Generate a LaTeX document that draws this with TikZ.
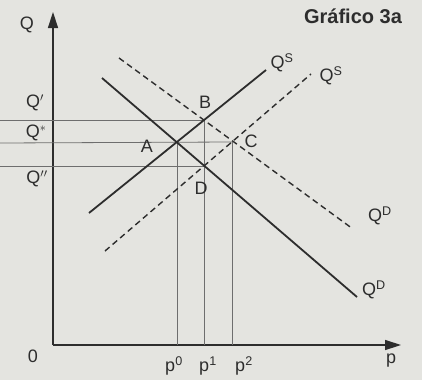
\documentclass[tikz,border=0pt]{standalone}
\usepackage{fontspec}
\setmainfont{Liberation Sans}
\usetikzlibrary{arrows.meta}
\definecolor{paper}{RGB}{228,228,224}
\definecolor{ink}{RGB}{45,45,45}
\definecolor{guidegray}{RGB}{110,110,110}

\begin{document}
\begin{tikzpicture}[x=1pt,y=-1pt,
  curve/.style={ink,line width=1.8pt},
  shifted/.style={ink,line width=1.4pt,dash pattern=on 6pt off 4pt},
  guide/.style={guidegray,line width=0.8pt},
  axis/.style={ink,line width=1.4pt,-{Triangle[length=16pt,width=10pt]}},
  lbl/.style={text=ink,font=\fontsize{18}{20}\selectfont,inner sep=1pt}]
  % Paper, pixel coordinates (y downwards).
  \fill[paper] (0,0) rectangle (422,380);
  \useasboundingbox (0,0) rectangle (422,380);
  \coordinate (edge) at (0,0);

  % Axes.
  \coordinate (origin) at (53,345);
  \coordinate (qtop) at (53,12);
  \coordinate (pend) at (401,345);
  \draw[axis] (origin) -- (qtop);
  \draw[axis] (origin) -- (pend);
  \node[lbl] (qlab) at (27,25) {Q};
  \node[lbl] (plab) at (391,361) {p};
  \node[lbl] (zero) at (33,356) {0};
  \node[text=ink,font=\bfseries\fontsize{20}{22}\selectfont] (title) at (353,16) {Gráfico 3a};

  % Equilibrium points.
  \coordinate (ptA) at (177,143);
  \coordinate (ptB) at (204,120);
  \coordinate (ptC) at (232,142);
  \coordinate (ptD) at (204,166);

  % Guide lines.
  \draw[guide] (edge |- ptB) -- (ptB);
  \draw[guide] (edge |- ptA) -- (ptC);
  \draw[guide] (edge |- ptD) -- (ptD);
  \draw[guide] (ptA) -- (ptA |- origin);
  \draw[guide] (ptB) -- (ptB |- origin);
  \draw[guide] (ptC) -- (ptC |- origin);

  % Supply and demand.
  \coordinate (s0) at (89,213);   \coordinate (s1) at (266,70);
  \coordinate (s2) at (105,251);  \coordinate (s3) at (311,74);
  \coordinate (d0) at (102,78);   \coordinate (d1) at (357,297);
  \coordinate (d2) at (119,58);   \coordinate (d3) at (353,229);
  \draw[curve] (s0) -- (s1);
  \draw[shifted] (s2) -- (s3);
  \draw[curve] (d0) -- (d1);
  \draw[shifted] (d2) -- (d3);

  % Curve labels.
  \node[lbl] (sup) at (282,63) {Q\textsuperscript{S}};
  \node[lbl] (supd) at (331,76) {Q\textsuperscript{S}};
  \node[lbl] (demd) at (380,216) {Q\textsuperscript{D}};
  \node[lbl] (dem) at (374,290) {Q\textsuperscript{D}};

  % Point labels.
  \node[lbl] (labA) at (147,146) {A};
  \node[lbl] (labB) at (205,102) {B};
  \node[lbl] (labC) at (251,141) {C};
  \node[lbl] (labD) at (201,188) {D};

  % Quantities and prices.
  \node[lbl] (qone) at (35,103) {Q$'$};
  \node[lbl] (qstar) at (36,133) {Q$^{*}$};
  \node[lbl] (qtwo) at (37,179) {Q$''$};
  \node[lbl] (pzero) at (174,366) {p\textsuperscript{0}};
  \node[lbl] (pone) at (208,366) {p\textsuperscript{1}};
  \node[lbl] (ptwo) at (244,366) {p\textsuperscript{2}};
\end{tikzpicture}
\end{document}
